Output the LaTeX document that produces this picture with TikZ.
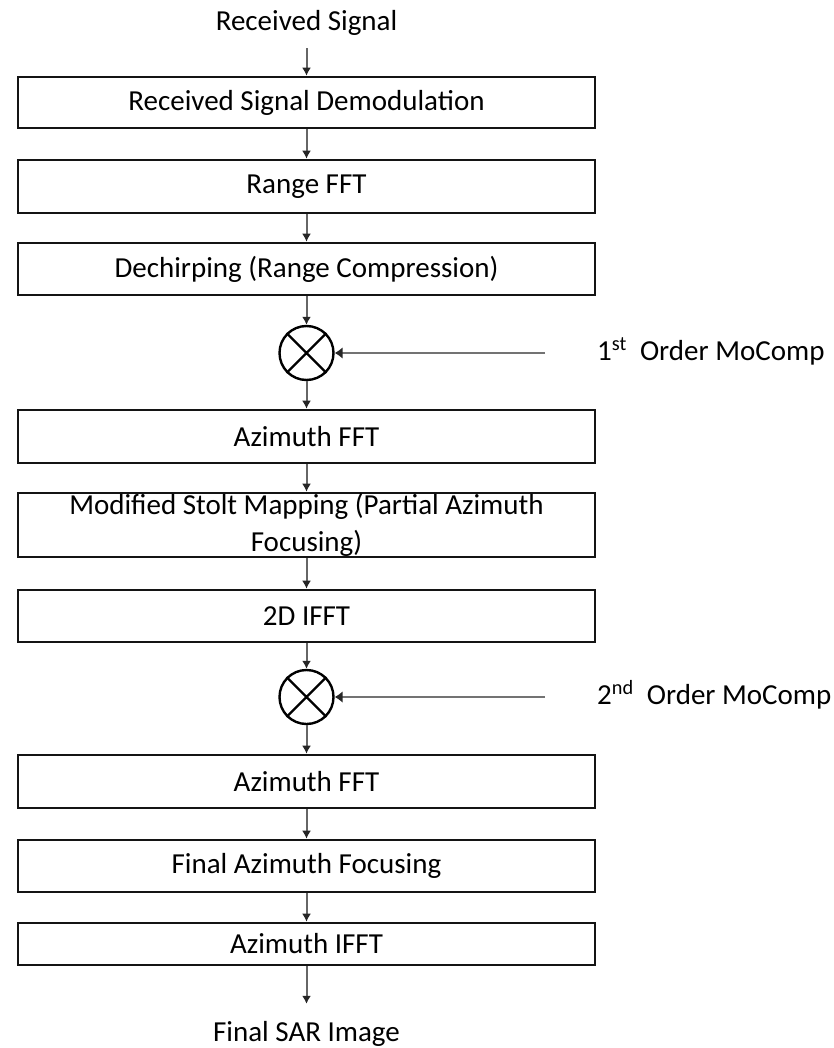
\documentclass[tikz,border=0pt]{standalone}
\usepackage{fontspec}
\setmainfont{Carlito}
\usetikzlibrary{arrows.meta}
\begin{document}
\begin{tikzpicture}[x=1pt,y=-1pt,
  procbox/.style={draw=black!92, line width=2.6pt, fill=white, minimum width=577pt, inner sep=0pt, align=center, font=\fontsize{29}{37}\selectfont},
  lbl/.style={inner sep=0pt, text height=21pt, text depth=7pt, font=\fontsize{29}{37}\selectfont},
  mult/.style={draw=black, line width=2.4pt, circle, minimum size=54pt, inner sep=0pt},
  arr/.style={draw=black!60, line width=2pt, -{Latex[length=8pt,width=9pt,color=black!85]}},
  feed/.style={draw=black!55, line width=2.8pt, -{Latex[length=8pt,width=12pt,color=black!85]}}
]
\useasboundingbox (0,0) rectangle (834,1048);

\node[lbl, anchor=base] (in) at (306.5,31) {Received Signal};
\node[procbox, minimum height=51pt] (b1) at (306.5,102.5) {Received Signal Demodulation};
\node[procbox, minimum height=53pt] (b2) at (306.5,186.5) {Range FFT};
\node[procbox, minimum height=52pt] (b3) at (306.5,269) {Dechirping (Range Compression)};
\node[mult] (c1) at (306.5,353) {};
\node[procbox, minimum height=53pt] (b4) at (306.5,436.5) {Azimuth FFT};
\node[procbox, minimum height=64pt] (b5) at (306.5,525) {Modified Stolt Mapping (Partial Azimuth\\Focusing)};
\node[procbox, minimum height=52pt] (b6) at (306.5,616) {2D IFFT};
\node[mult] (c2) at (306.5,697) {};
\node[procbox, minimum height=53pt] (b7) at (306.5,781.5) {Azimuth FFT};
\node[procbox, minimum height=52pt] (b8) at (306.5,866) {Final Azimuth Focusing};
\node[procbox, minimum height=42pt] (b9) at (306.5,944) {Azimuth IFFT};
\node[lbl, anchor=base] (out) at (306.5,1041) {Final SAR Image};

\node[lbl, anchor=west] (l1) at (597,353) {1\textsuperscript{st}\ \ Order MoComp};
\node[lbl, anchor=west] (l2) at (597,697) {2\textsuperscript{nd}\ \ Order MoComp};
\coordinate (m1) at (545,353);
\coordinate (m2) at (545,697);

% cross inside multipliers
\draw[line width=2.2pt] (c1.45) -- (c1.225) (c1.135) -- (c1.-45);
\draw[line width=2.2pt] (c2.45) -- (c2.225) (c2.135) -- (c2.-45);

% flow arrows
\draw[arr, shorten <=10pt] (in) -- (b1);
\draw[arr] (b1) -- (b2);
\draw[arr] (b2) -- (b3);
\draw[arr] (b3) -- (c1);
\draw[arr] (c1) -- (b4);
\draw[arr] (b4) -- (b5);
\draw[arr] (b5) -- (b6);
\draw[arr] (b6) -- (c2);
\draw[arr] (c2) -- (b7);
\draw[arr] (b7) -- (b8);
\draw[arr] (b8) -- (b9);
\draw[arr, shorten >=16pt] (b9) -- (out);

% motion compensation inputs
\draw[feed] (m1) -- (c1);
\draw[feed] (m2) -- (c2);
\end{tikzpicture}
\end{document}
